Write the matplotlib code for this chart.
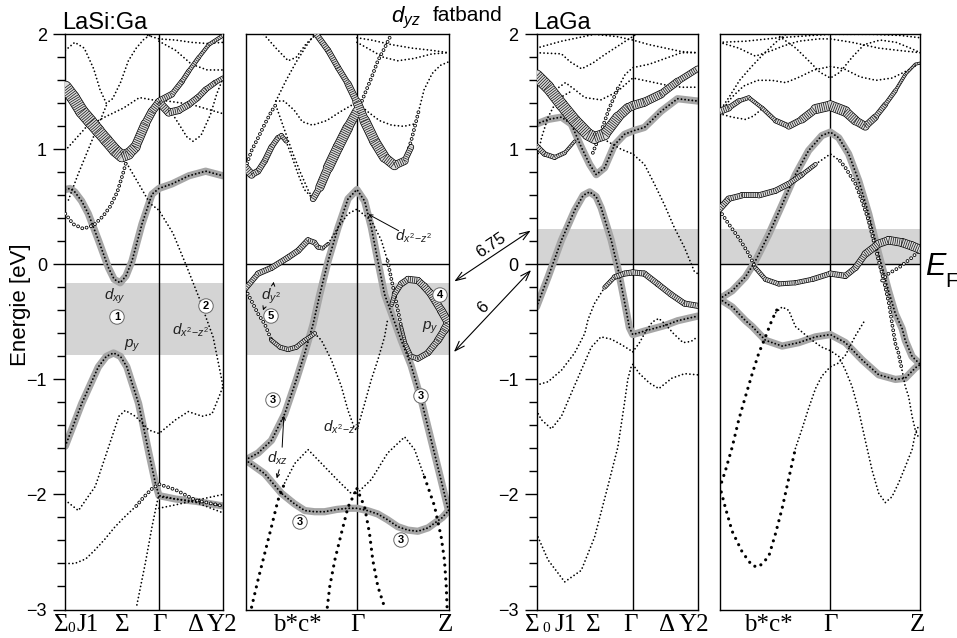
import numpy as np
import matplotlib.pyplot as plt
from matplotlib.collections import LineCollection
from matplotlib.patches import FancyArrowPatch
from matplotlib.ticker import MultipleLocator

plt.rcParams['font.family'] = ['Liberation Sans', 'DejaVu Sans']
plt.rcParams['mathtext.fontset'] = 'custom'
plt.rcParams['mathtext.it'] = 'Liberation Sans:italic'
plt.rcParams['mathtext.rm'] = 'Liberation Sans'
plt.rcParams['lines.scale_dashes'] = False

# ---- data: k as fraction of the panel width, E in eV ----
gamma_k = [0.594, 0.549, 0.598, 0.552]
shade = [(-0.79, -0.16), (-0.79, -0.16), (0.0, 0.31), (0.0, 0.31)]

# panel 1  LaSi:Ga  Sigma0 - Gamma - Y2
p1_g_dxy = ([0, .03, .06, .104, .146, .21, .274, .31, .348, .385, .423, .486, .55, .594, .677, .783, .89, 1.0],
            [0.65, 0.66, 0.63, 0.55, 0.44, 0.21, -0.03, -0.13, -0.16, -0.10, 0.03, 0.35, 0.61, 0.66, 0.70, 0.77, 0.81, 0.77])
p1_g_py = ([0, .104, .21, .26, .306, .35, .39, .465, .53, .571, .594, .70, .83, 1.0],
           [-1.58, -1.21, -0.89, -0.80, -0.77, -0.80, -0.89, -1.21, -1.64, -1.90, -2.01, -2.04, -2.06, -2.10])
p1_f_big = ([0, .05, .104, .16, .21, .26, .316, .359, .40, .444, .507, .55, .594],
            [1.54, 1.45, 1.33, 1.24, 1.16, 1.08, 0.99, 0.94, 0.96, 1.02, 1.22, 1.33, 1.41],
            [13, 13, 13, 13, 12, 12, 12, 12, 11, 10, 9, 8, 8])
p1_f_up = ([.594, .677, .74, .783, .847, .91, 1.0],
           [1.42, 1.48, 1.59, 1.68, 1.80, 1.91, 1.99],
           [7, 6, 5, 5, 4, 4, 4])
p1_f_low = ([.594, .656, .72, .783, .84, .89, .95, 1.0],
            [1.41, 1.32, 1.34, 1.39, 1.45, 1.52, 1.58, 1.62],
            [8, 8, 7, 7, 6, 6, 5, 5])
p1_s_a = ([0, .05, .114, .18, .24, .283, .33, .368, .39],
          [0.44, 0.35, 0.31, 0.34, 0.42, 0.50, 0.63, 0.80, 0.91])
p1_s_b = ([.45, .50, .55, .594, .70, .826, 1.0],
          [-2.10, -2.02, -1.95, -1.91, -1.96, -2.05, -2.10])
p1_d_a = ([0, .13, .25, .37, .47, .594, .66, .72, .77, .81, .86, .92, .96, 1.0],
          [0.99, 1.19, 1.28, 1.36, 1.45, 1.42, 1.35, 1.22, 1.11, 1.07, 1.12, 1.30, 1.48, 1.62])
p1_d_b = ([0, .06, .12, .18, .22, .26, .30, .35, .40, .45, .50, .55],
          [1.86, 1.93, 1.88, 1.70, 1.52, 1.40, 1.44, 1.58, 1.77, 1.88, 1.96, 2.0])
p1_d_c = ([.02, .08, .14, .20, .26], [0.56, 0.78, 0.98, 1.18, 1.38])
p1_d_x2 = ([.389, .474, .537, .594, .683, .77, .854, .897, .937, .98, 1.0],
           [0.88, 0.68, 0.53, 0.47, 0.27, -0.02, -0.31, -0.48, -0.63, -0.92, -1.06])
p1_d_r1 = ([.594, .70, .80, .90, 1.0], [1.94, 1.86, 1.74, 1.69, 1.69])
p1_d_r2 = ([.594, .70, .80, .90, 1.0], [1.43, 1.41, 1.39, 1.35, 1.31])
p1_d_r3 = ([.50, .594, .70, .80, .90, 1.0], [2.0, 1.96, 1.95, 1.93, 1.92, 1.93])
p1_d_l1 = ([0, .083, .19, .274, .34, .38, .444, .53, .594, .70, .78, .868, .93, .975, 1.0],
           [-2.05, -2.14, -1.93, -1.59, -1.32, -1.27, -1.32, -1.44, -1.47, -1.35, -1.28, -1.32, -1.30, -1.15, -1.06])
p1_d_l2 = ([0, .06, .13, .19, .25, .316, .38, .45], [-2.60, -2.60, -2.56, -2.48, -2.39, -2.28, -2.19, -2.10])
p1_d_l3 = ([.594, .70, .83, 1.0], [-2.12, -2.09, -2.05, -2.00])
p1_d_l4 = ([.594, .70, .83, 1.0], [-2.02, -2.04, -2.07, -2.16])
p1_d_l5 = ([.454, .507, .55, .58, .594], [-2.96, -2.60, -2.28, -2.08, -2.00])

# panel 2  LaSi:Ga  b*c* - Gamma - Z
p2_g_peak = ([0, .062, .128, .193, .251, .292, .333, .366, .407, .456, .505, .549, .587, .62, .652, .685, .734, .767, .816, .866, .915, .964, 1.0],
             [-1.70, -1.64, -1.53, -1.30, -1.00, -0.77, -0.52, -0.26, 0.03, 0.32, 0.57, 0.65, 0.55, 0.32, 0.03, -0.26, -0.50, -0.66, -0.88, -1.18, -1.53, -1.88, -2.14])
p2_g_bot = ([0, .095, .177, .24, .292, .34, .39, .45, .505, .549, .60, .652, .70, .75, .80, .849, .90, .931, .97, 1.0],
            [-1.70, -1.82, -1.99, -2.08, -2.14, -2.15, -2.15, -2.13, -2.12, -2.12, -2.14, -2.17, -2.22, -2.28, -2.31, -2.32, -2.29, -2.25, -2.20, -2.14])
p2_f_dy2 = ([0, .062, .128, .21, .26, .308, .34, .357, .38, .407],
            [-0.21, -0.08, -0.03, 0.06, 0.12, 0.21, 0.19, 0.15, 0.14, 0.18],
            [5, 6, 6, 6, 6, 6, 5, 5, 4, 3])
p2_f_loop_top = ([.72, .734, .767, .80, .849, .88, .915, .964, 1.0],
                 [-0.35, -0.26, -0.17, -0.13, -0.14, -0.19, -0.26, -0.40, -0.51],
                 [4, 5, 6, 7, 7, 7, 8, 8, 9])
p2_f_loop_bot = ([.767, .79, .816, .849, .898, .948, .98, 1.0],
                 [-0.54, -0.70, -0.80, -0.82, -0.77, -0.66, -0.57, -0.51],
                 [3, 4, 5, 6, 6, 7, 8, 9])
p2_f_dy2_low = ([.128, .17, .21, .25, .292, .341],
                [-0.66, -0.72, -0.74, -0.72, -0.66, -0.60],
                [4, 5, 5, 5, 5, 4])
p2_f_x_top = ([.349, .407, .456, .505, .549, .587, .636, .685, .734, .784, .816],
              [2.0, 1.86, 1.71, 1.57, 1.41, 1.25, 1.07, 0.93, 0.86, 0.90, 1.02],
              [6, 6, 6, 6, 8, 10, 11, 10, 9, 7, 5])
p2_f_left_down = ([.333, .366, .407, .456, .505, .549],
                  [0.57, 0.67, 0.84, 1.02, 1.19, 1.33],
                  [5, 8, 10, 11, 10, 9])
p2_f_left = ([0, .03, .062, .095, .128, .16, .177, .20],
             [0.84, 0.78, 0.81, 0.90, 1.02, 1.10, 1.12, 1.07],
             [9, 7, 6, 6, 6, 5, 5, 4])
p2_s_a = ([0, .03, .062, .095, .128], [-0.22, -0.32, -0.43, -0.52, -0.66])
p2_s_x2 = ([.70, .72, .745, .767], [0.03, -0.14, -0.35, -0.54])
p2_s_up = ([.549, .587, .62, .652, .685, .71], [1.31, 1.48, 1.62, 1.77, 1.88, 1.97])
p2_s_rise = ([.784, .80, .82, .84, .857], [0.90, 0.98, 1.10, 1.24, 1.36])
p2_s_f8 = ([0, .03, .062, .095, .128, .15], [0.84, 0.99, 1.10, 1.22, 1.33, 1.39])
p2_d_vl = ([.341, .374, .423, .472, .505, .538, .549], [-0.60, -0.66, -0.83, -1.06, -1.27, -1.43, -1.44])
p2_d_x2 = ([.407, .456, .505, .549, .62, .669, .70], [0.18, 0.32, 0.44, 0.48, 0.38, 0.21, 0.03])
p2_d_vr = ([.554, .587, .62, .652, .685, .70], [-1.41, -1.21, -1.00, -0.83, -0.63, -0.48])
p2_d_rise = ([.857, .88, .92, .96, 1.0], [1.36, 1.52, 1.66, 1.73, 1.76])
p2_d_f7 = ([.20, .23, .26, .29, .333], [1.07, 0.93, 0.78, 0.65, 0.57])
p2_d_arc = ([.15, .19, .24, .28, .33, .40, .47, .549], [1.42, 1.42, 1.34, 1.24, 1.21, 1.25, 1.33, 1.41])
p2_d_t1 = ([.09, .15, .21, .25, .30, .349], [2.0, 1.88, 1.77, 1.80, 1.92, 2.0])
p2_d_diag = ([.15, .19, .23, .27, .31, .333], [1.38, 1.18, 0.98, 0.80, 0.64, 0.57])
p2_d_t2 = ([.15, .20, .25, .30, .34], [1.42, 1.60, 1.76, 1.90, 2.0])
p2_d_ra = ([.549, .62, .72, .82, .92, 1.0], [1.97, 1.95, 1.91, 1.88, 1.86, 1.84])
p2_d_rb = ([.549, .60, .66, .72, .78, .83], [1.41, 1.33, 1.25, 1.21, 1.20, 1.22])
p2_d_rc = ([.549, .60, .68, .75, .83, .92, 1.0], [1.93, 1.88, 1.80, 1.77, 1.79, 1.83, 1.84])
p2_d_bump = ([.193, .243, .308, .374, .456, .52, .549], [-1.90, -1.73, -1.61, -1.73, -1.88, -1.99, -1.99])
p2_d_bump_r = ([.549, .62, .70, .784, .833, .882], [-1.99, -1.87, -1.64, -1.50, -1.61, -1.85])
p2_b_ll = ([.03, .062, .095, .128, .16, .193], [-2.98, -2.74, -2.51, -2.28, -2.05, -1.90])
p2_b_rr = ([.882, .931, .964, .98, .989, .993], [-1.85, -2.10, -2.37, -2.57, -2.80, -2.98])
p2_b_sl = ([.403, .415, .44, .472, .505, .549], [-2.98, -2.80, -2.57, -2.34, -2.11, -1.95])
p2_b_sr = ([.549, .587, .611, .627, .652, .685], [-1.95, -2.11, -2.34, -2.57, -2.80, -2.98])

# panel 3  LaGa  Sigma0 - Gamma - Y2
p3_g_low = ([0, .072, .155, .237, .29, .33, .37, .402, .464, .505, .546, .577, .598, .67, .80, .876, 1.0],
            [-0.37, -0.11, 0.21, 0.47, 0.60, 0.63, 0.59, 0.49, 0.21, -0.03, -0.32, -0.55, -0.61, -0.58, -0.53, -0.49, -0.45])
p3_g_up = ([0, .072, .155, .216, .278, .33, .371, .423, .485, .546, .598, .67, .773, .876, 1.0],
           [1.22, 1.26, 1.28, 1.22, 1.02, 0.87, 0.78, 0.84, 1.04, 1.13, 1.16, 1.19, 1.33, 1.44, 1.42])
p3_f_big = ([0, .072, .155, .237, .32, .36, .423, .505, .567, .598, .67, .773, .876, 1.0],
            [1.64, 1.54, 1.39, 1.25, 1.13, 1.10, 1.13, 1.28, 1.36, 1.38, 1.41, 1.48, 1.59, 1.70],
            [13, 12, 12, 12, 12, 12, 11, 10, 9, 9, 9, 8, 7, 6])
p3_f_left = ([0, .05, .113, .175, .237], [1.03, 0.96, 0.93, 0.97, 1.07], [6, 5, 5, 4, 3])
p3_f_low = ([.423, .485, .546, .598, .67, .753, .835, .918, 1.0],
            [-0.20, -0.11, -0.08, -0.07, -0.08, -0.17, -0.26, -0.34, -0.36],
            [4, 5, 6, 6, 6, 6, 6, 6, 6])
p3_s_rise = ([.35, .40, .45, .505], [0.97, 1.15, 1.35, 1.53])
p3_d_rise = ([.505, .55, .598, .70, .80, .90, 1.0], [1.53, 1.65, 1.71, 1.74, 1.79, 1.84, 1.84])
p3_d_x2 = ([.44, .527, .598, .67, .732, .794, .856, .918, .98, 1.0],
           [1.07, 1.00, 0.96, 0.87, 0.70, 0.52, 0.32, 0.15, -0.06, -0.08])
p3_d_t1 = ([0, .155, .36, .50, .598, .70, .80, .90, 1.0], [1.88, 1.94, 2.0, 1.98, 1.95, 1.91, 1.88, 1.85, 1.84])
p3_d_t2 = ([0, .155, .21, .28, .35, .42, .53, .62], [1.84, 1.83, 1.76, 1.70, 1.75, 1.82, 1.92, 2.0])
p3_d_t3 = ([.12, .18, .237, .30, .40, .50, .598, .70, .80, .90, 1.0],
           [1.52, 1.58, 1.52, 1.45, 1.43, 1.50, 1.62, 1.59, 1.56, 1.54, 1.54])
p3_d_steep = ([0, .031, .072, .113, .16, .21], [0.90, 1.10, 1.28, 1.39, 1.46, 1.50])
p3_d_f11 = ([0, .072, .155, .237, .30, .32, .36, .423], [-1.05, -1.02, -0.92, -0.77, -0.60, -0.48, -0.34, -0.20])
p3_d_L = ([0, .03, .093, .155, .216, .278, .34, .40, .464, .53, .598],
          [-1.27, -1.35, -1.43, -1.32, -1.12, -0.92, -0.72, -0.63, -0.65, -0.70, -0.76])
p3_d_O = ([.598, .64, .68, .72, .76, .80, .85, .91, .96, 1.0],
          [-0.76, -0.68, -0.58, -0.50, -0.47, -0.52, -0.60, -0.68, -0.67, -0.63])
p3_d_Mr = ([.598, .64, .70, .76, .84, .92, 1.0], [-0.87, -0.95, -1.03, -1.08, -0.99, -0.95, -0.96])
p3_d_Ml = ([0, .072, .175, .278, .361, .443, .505, .546, .567, .588, .598],
           [-2.34, -2.57, -2.76, -2.66, -2.37, -1.93, -1.59, -1.21, -1.00, -0.89, -0.87])

# panel 4  LaGa  b*c* - Gamma - Z
p4_g_peak = ([0, .063, .129, .179, .245, .312, .378, .444, .51, .552, .594, .643, .693, .743, .793, .842, .876, .91, .925, .959, 1.0],
             [-0.30, -0.23, -0.11, 0.03, 0.26, 0.52, 0.78, 0.99, 1.12, 1.15, 1.10, 0.96, 0.73, 0.44, 0.09, -0.23, -0.43, -0.56, -0.66, -0.80, -0.87])
p4_g_low = ([0, .063, .13, .163, .229, .312, .395, .478, .552, .627, .71, .793, .876, .925, .975, 1.0],
            [-0.30, -0.37, -0.49, -0.54, -0.66, -0.71, -0.68, -0.63, -0.61, -0.68, -0.83, -0.96, -1.00, -0.99, -0.90, -0.87])
p4_f_up = ([0, .046, .096, .146, .212, .279, .345, .411, .478, .552, .627, .677, .726, .776, .826, .876, .925, .975, 1.0],
           [1.33, 1.36, 1.42, 1.45, 1.36, 1.25, 1.20, 1.26, 1.35, 1.38, 1.33, 1.25, 1.20, 1.28, 1.39, 1.51, 1.65, 1.74, 1.75],
           [8, 6, 5, 4, 4, 5, 6, 7, 9, 11, 10, 9, 8, 6, 5, 4, 3, 3, 3])
p4_f_mid = ([0, .046, .113, .196, .279, .345, .411, .478],
            [0.48, 0.57, 0.60, 0.60, 0.64, 0.70, 0.78, 0.87],
            [7, 6, 6, 6, 6, 6, 5, 4])
p4_f_low = ([.179, .229, .295, .378, .461, .552, .627, .677, .726, .793, .842, .909, .959, 1.0],
            [-0.03, -0.13, -0.17, -0.16, -0.13, -0.08, -0.10, -0.03, 0.09, 0.18, 0.21, 0.19, 0.16, 0.13],
            [4, 5, 5, 5, 5, 6, 6, 6, 7, 8, 8, 9, 9, 9])
p4_d_mid = ([.478, .552, .60], [0.87, 0.96, 0.90])
p4_s_mid = ([.60, .627, .677, .71, .743, .76, .793, .82, .845, .859, .876, .89, .909],
            [0.90, 0.84, 0.70, 0.55, 0.38, 0.26, 0.03, -0.15, -0.35, -0.51, -0.69, -0.76, -0.92])
p4_d_midend = ([.909, .925, .942, .959, .975, .99], [-0.92, -1.06, -1.15, -1.32, -1.44, -1.50])
p4_s_lowleft = ([0, .046, .096, .146, .179], [0.47, 0.35, 0.23, 0.09, -0.03])
p4_s_risez = ([.81, .842, .892, .959, 1.0], [-0.14, -0.08, -0.03, 0.06, 0.13])
p4_b_vl = ([0, .03, .063, .113, .163, .196, .245, .279, .312, .345, .378],
           [-1.92, -2.12, -2.32, -2.50, -2.62, -2.63, -2.54, -2.34, -2.12, -1.86, -1.60])
p4_d_vl2 = ([.378, .411, .444, .478, .51, .552, .59, .627, .677, .726],
            [-1.60, -1.43, -1.25, -1.08, -0.97, -0.89, -0.86, -0.79, -0.62, -0.48])
p4_b_rl = ([0, .03, .063, .096, .129, .163, .196, .229, .262, .29],
           [-1.95, -1.79, -1.59, -1.35, -1.15, -0.95, -0.77, -0.63, -0.48, -0.38])
p4_d_r4 = ([.28, .312, .345, .378, .461, .51, .552, .594, .627, .66, .693, .726, .76, .793, .826, .859, .892, .925, .959, .975, .99],
           [-0.42, -0.37, -0.40, -0.54, -0.66, -0.72, -0.75, -0.80, -0.92, -1.06, -1.27, -1.53, -1.79, -1.99, -2.07, -2.02, -1.90, -1.76, -1.61, -1.47, -1.41])
p4_d_t1 = ([0, .129, .295, .461, .552, .76, .90, 1.0], [1.93, 1.94, 1.97, 1.99, 2.0, 2.0, 1.99, 1.97])
p4_d_t2 = ([0, .096, .179, .262, .32, .395, .494, .552, .66, .793, .892, 1.0],
           [1.93, 1.88, 1.81, 1.86, 1.90, 1.94, 1.96, 1.96, 1.93, 1.88, 1.86, 1.84])
p4_d_a = ([0, .06, .12, .19, .26, .33, .40, .47, .552, .62, .70, .78, .86, .93, 1.0],
          [1.31, 1.45, 1.55, 1.60, 1.60, 1.58, 1.63, 1.69, 1.72, 1.70, 1.63, 1.60, 1.62, 1.68, 1.75])
p4_d_b = ([.30, .38, .45, .50, .552, .60, .66, .72, .80, .88, .95, 1.0],
          [1.98, 1.88, 1.76, 1.67, 1.62, 1.67, 1.80, 1.91, 1.95, 1.93, 1.88, 1.84])
p4_d_c = ([0, .05, .10, .16, .22, .28, .33], [1.33, 1.46, 1.60, 1.72, 1.83, 1.93, 2.0])
p4_d_e = ([0, .063, .13, .17, .21], [1.31, 1.28, 1.26, 1.29, 1.35])

gray_bands = [[p1_g_dxy, p1_g_py], [p2_g_peak, p2_g_bot], [p3_g_low, p3_g_up], [p4_g_peak, p4_g_low]]
fat_bands = [[p1_f_big, p1_f_up, p1_f_low],
             [p2_f_dy2, p2_f_loop_top, p2_f_loop_bot, p2_f_dy2_low, p2_f_x_top, p2_f_left_down, p2_f_left],
             [p3_f_big, p3_f_left, p3_f_low],
             [p4_f_up, p4_f_mid, p4_f_low]]
ring_bands = [[p1_s_a, p1_s_b], [p2_s_a, p2_s_x2, p2_s_up, p2_s_rise, p2_s_f8], [p3_s_rise],
              [p4_s_mid, p4_s_lowleft, p4_s_risez]]
dot_bands = [[p1_d_a, p1_d_b, p1_d_c, p1_d_x2, p1_d_r1, p1_d_r2, p1_d_r3, p1_d_l1, p1_d_l2, p1_d_l3, p1_d_l4, p1_d_l5],
             [p2_d_vl, p2_d_x2, p2_d_vr, p2_d_rise, p2_d_f7, p2_d_arc, p2_d_t1, p2_d_diag, p2_d_t2,
              p2_d_ra, p2_d_rb, p2_d_rc, p2_d_bump, p2_d_bump_r],
             [p3_d_rise, p3_d_x2, p3_d_t1, p3_d_t2, p3_d_t3, p3_d_steep, p3_d_f11, p3_d_L, p3_d_O, p3_d_Mr, p3_d_Ml],
             [p4_d_mid, p4_d_midend, p4_d_vl2, p4_d_r4, p4_d_t1, p4_d_t2, p4_d_a, p4_d_b, p4_d_c, p4_d_e]]
bigdot_bands = [[], [p2_b_ll, p2_b_rr, p2_b_sl, p2_b_sr], [], [p4_b_vl, p4_b_rl]]

# ---- layout (pixels) ----
W, H = 957, 638
panel_px = [(65.3, 223.0), (245.5, 448.5), (536.5, 697.5), (719.5, 920.3)]
top_px, bot_px = 34.3, 609.5


def fx(x):
    return x / W


def fy(y):
    return 1 - y / H


fig = plt.figure(figsize=(W / 100, H / 100), dpi=100)


def dotted(ax, band, lw=1.3, gap=2.7, z=4):
    ax.plot(band[0], band[1], color='k', lw=lw, ls=(0, (0.01, gap)),
            dash_capstyle='round', zorder=z)


def rings(ax, band, d=2.7, gap=3.3):
    for c, w, z in (('k', d, 4.5), ('white', d - 1.2, 4.6)):
        ax.plot(band[0], band[1], color=c, lw=w, ls=(0, (0.01, gap)),
                dash_capstyle='round', zorder=z)


def fat(ax, band):
    pts = np.column_stack([band[0], band[1]])
    segs = np.stack([pts[:-1], pts[1:]], axis=1)
    d = np.array(band[2], float)
    w = (d[:-1] + d[1:]) / 2 * 0.72
    ax.add_collection(LineCollection(segs, linewidths=w, colors='k',
                                     capstyle='round', joinstyle='round', zorder=5))
    ax.add_collection(LineCollection(segs, linewidths=w - 1.1, colors='#dcdcdc',
                                     capstyle='round', joinstyle='round', zorder=5.1))
    ax.add_collection(LineCollection(segs, linewidths=w - 1.1, colors='#111111',
                                     linestyles=[(0, (0.5, 1.05))], capstyle='butt', zorder=5.2))


axes = []
for i, (l, r) in enumerate(panel_px):
    ax = fig.add_axes([fx(l), fy(bot_px), (r - l) / W, (bot_px - top_px) / H])
    ax.set_xlim(0, 1)
    ax.set_ylim(-3, 2)
    ax.set_xticks([])
    for s in ax.spines.values():
        s.set_linewidth(1.0)
    ax.axhspan(shade[i][0], shade[i][1], color='#d4d4d4', lw=0, zorder=0)
    ax.axhline(0, color='k', lw=1.0, zorder=1.5)
    ax.axvline(gamma_k[i], color='k', lw=1.0, zorder=1.5)
    if i in (0, 2):
        ax.set_yticks([-3, -2, -1, 0, 1, 2])
        ax.yaxis.set_minor_locator(MultipleLocator(0.2))
        ax.tick_params(axis='y', which='major', direction='out', length=8.6, width=1.0,
                       labelsize=13, pad=4.5)
        ax.tick_params(axis='y', which='minor', direction='out', length=6.0, width=1.0)
    else:
        ax.set_yticks([])
    for b in gray_bands[i]:
        ax.plot(b[0], b[1], color='#a6a6a6', lw=5.2, solid_capstyle='round',
                solid_joinstyle='round', zorder=2)
        dotted(ax, b, lw=1.4, gap=2.6, z=3)
    for b in dot_bands[i]:
        dotted(ax, b)
    for b in bigdot_bands[i]:
        dotted(ax, b, lw=2.3, gap=5.0)
    for b in ring_bands[i]:
        rings(ax, b)
    for b in fat_bands[i]:
        fat(ax, b)
    axes.append(ax)

# ---- texts ----
fig.text(fx(62), fy(29), 'LaSi:Ga', fontsize=17, va='baseline')
fig.text(fx(533), fy(29), 'LaGa', fontsize=17, va='baseline')
fig.text(fx(391), fy(22), r'$d_{yz}$', fontsize=16, va='baseline')
fig.text(fx(433), fy(21), 'fatband', fontsize=15, va='baseline')
fig.text(fx(21), fy(305), 'Energie [eV]', rotation=90, fontsize=16, ha='center', va='center')
fig.text(fx(925), fy(275), 'E', fontsize=22, style='italic', va='baseline')
fig.text(fx(945), fy(287), 'F', fontsize=15, va='baseline')

serif = dict(family='Liberation Serif', fontsize=18, ha='center', va='center')
xlab = [(61, 'Σ'), (88, 'J1'), (122.5, 'Σ'), (159, 'Γ'), (196, 'Δ'), (222, 'Y2'),
        (297, 'b*c*'), (357, 'Γ'), (445, 'Z'),
        (532.5, 'Σ'), (566, 'J1'), (593, 'Σ'), (630, 'Γ'), (667.5, 'Δ'), (694.5, 'Y2'),
        (768, 'b*c*'), (830.5, 'Γ'), (917.5, 'Z')]
for x, s in xlab:
    fig.text(fx(x), fy(625), s, **serif)
for x in (71.5, 546):
    fig.text(fx(x), fy(629), '0', family='Liberation Serif', fontsize=11, ha='center', va='center')

ital = [(115, 296, r'$d_{xy}$'), (132, 346, r'$p_y$'), (191, 330, r'$d_{x^2\!-\!z^2}$'),
        (414, 236, r'$d_{x^2\!-\!z^2}$'), (271, 296, r'$d_{y^2}$'), (430, 328, r'$p_y$'),
        (342, 427, r'$d_{x^2\!-\!z^2}$'), (277, 458, r'$d_{xz}$')]
for x, y, s in ital:
    fig.text(fx(x), fy(y), s, fontsize=11, ha='center', va='center', color='#222222')

circ = [(117, 317, '1'), (206, 306, '2'), (273, 400, '3'), (300, 522, '3'), (421, 396, '3'),
        (401, 540, '3'), (440, 295, '4'), (271, 316, '5')]
for x, y, s in circ:
    fig.text(fx(x), fy(y), s, fontsize=8, fontweight='bold', ha='center', va='center', zorder=10,
             bbox=dict(boxstyle='circle,pad=0.2', fc='white', ec='#666666', lw=0.7))

# pointer lines and arrows (pixel coordinates)
pointers = [((401, 232), (366, 213)), ((282, 450), (284, 413)), ((280, 467), (276, 481)),
            ((273, 287), (274, 279)), ((265, 305), (262, 313))]
for a, b in pointers:
    fig.add_artist(FancyArrowPatch((fx(a[0]), fy(a[1])), (fx(b[0]), fy(b[1])),
                                   transform=fig.transFigure, arrowstyle='->',
                                   mutation_scale=6, lw=0.7, color='k'))

gaps = [((452, 283), (533, 229), 491, 245, 34, '6.75'), ((452, 354), (533, 268), 483, 308, 46, '6')]
for a, b, tx, ty, rot, s in gaps:
    fig.add_artist(FancyArrowPatch((fx(a[0]), fy(a[1])), (fx(b[0]), fy(b[1])),
                                   transform=fig.transFigure,
                                   arrowstyle='<->,head_length=0.7,head_width=0.25',
                                   mutation_scale=10, lw=0.8, color='k'))
    fig.text(fx(tx), fy(ty), s, fontsize=12, rotation=rot, ha='center', va='center')

fig.savefig('out.png', dpi=100)
